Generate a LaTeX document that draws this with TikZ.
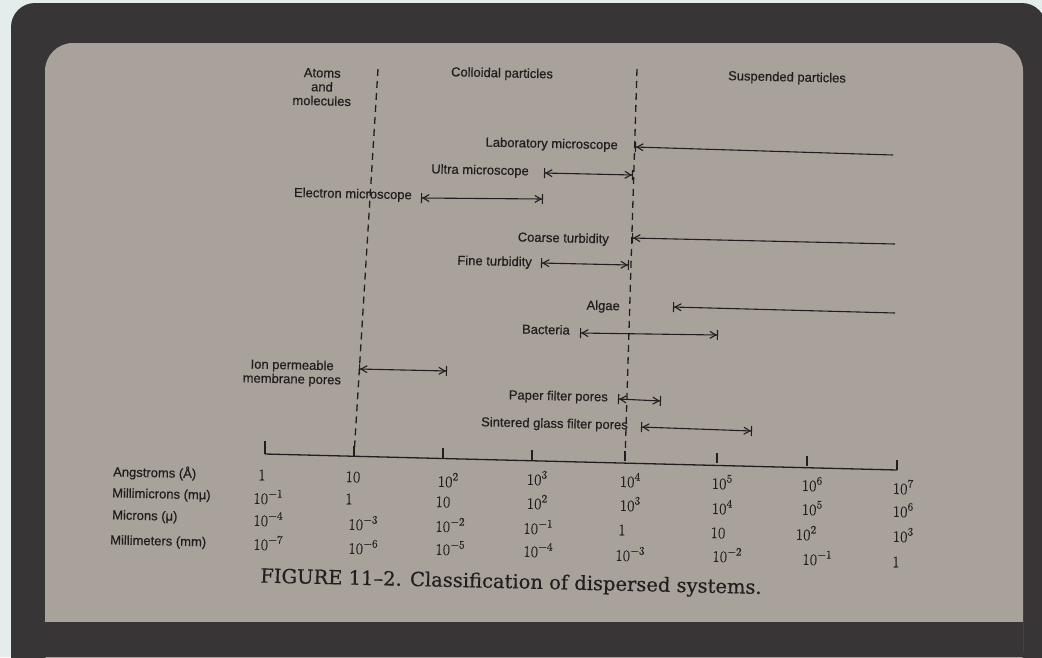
\documentclass[tikz,border=0pt]{standalone}
\usepackage{fontspec}
\newfontfamily\lblfont[FakeBold=0.5]{Liberation Sans}
\newfontfamily\numfont[FakeBold=0.4]{Latin Modern Roman}
\newfontfamily\capfont[FakeBold=0.4]{DejaVu Serif}
\usetikzlibrary{arrows.meta}
\definecolor{bgc}{RGB}{228,236,236}
\definecolor{framec}{RGB}{56,53,54}
\definecolor{paperc}{RGB}{168,162,154}
\definecolor{inkc}{RGB}{34,30,31}
\newcommand\tp[1]{10\raisebox{0.42em}{\fontsize{11.5}{12}\selectfont#1}}
\tikzset{
  lbl/.style={font=\lblfont\fontsize{13}{14}\selectfont, text=inkc, inner sep=0pt, rotate=-1.2},
  num/.style={font=\numfont\fontsize{16}{17}\selectfont, text=inkc, inner sep=0pt, rotate=-1.2},
  border/.style={draw=inkc, line width=1.3pt, dash pattern=on 7pt off 5pt},
  rangeboth/.style={draw=inkc, line width=1.1pt,
    {Bar[width=10pt]Straight Barb[length=6pt,width=7pt]}-{Straight Barb[length=6pt,width=7pt]Bar[width=10pt]}},
  rangeleft/.style={draw=inkc, line width=1.1pt,
    {Bar[width=10pt]Straight Barb[length=6pt,width=7pt]}-},
  axisline/.style={draw=inkc, line width=1.3pt},
}
\begin{document}
\begin{tikzpicture}[x=1pt,y=-1pt]
    \useasboundingbox (0,0) rectangle (1042,657);
    \clip (0,0) rectangle (1042,657);
    \fill[bgc] (0,0) rectangle (1042,657);
    \fill[framec, rounded corners=24pt] (11,3) rectangle (1046,700);
    \fill[paperc, rounded corners=28pt] (45,43) rectangle (1023,680);
    \fill[framec] (45,622) rectangle (1023,657);

    \node[lbl, align=center] (atoms) at (322,87) {Atoms\\and\\molecules};
    \node[lbl] (colloid) at (502,74) {Colloidal particles};
    \node[lbl] (susp) at (787,78) {Suspended particles};

    \coordinate (ax0) at (265,454);
    \coordinate (ax1) at (354,456);
    \coordinate (ax4) at (625,461);
    \coordinate (ax7) at (897,470);
    \coordinate (top1) at (378,69);
    \coordinate (top4) at (637,69);
    \draw[border] (top1) -- (ax1);
    \draw[border] (top4) -- (ax4);

    \coordinate (lab-a) at (635,147);
    \coordinate (lab-b) at (893,155);
    \draw[rangeleft] (lab-a) -- (lab-b);
    \node[lbl, anchor=east] (lab) at (618,146) {Laboratory microscope};
    \coordinate (ultra-a) at (544,173);
    \coordinate (ultra-b) at (633,175);
    \draw[rangeboth] (ultra-a) -- (ultra-b);
    \node[lbl, anchor=east] (ultra) at (529,172) {Ultra microscope};
    \coordinate (elec-a) at (421,198);
    \coordinate (elec-b) at (543,199);
    \draw[rangeboth] (elec-a) -- (elec-b);
    \node[lbl, anchor=east] (elec) at (412,196) {Electron microscope};
    \coordinate (coarse-a) at (632,238);
    \coordinate (coarse-b) at (895,244);
    \draw[rangeleft] (coarse-a) -- (coarse-b);
    \node[lbl, anchor=east] (coarse) at (609,240) {Coarse turbidity};
    \coordinate (fine-a) at (541,263);
    \coordinate (fine-b) at (629,265);
    \draw[rangeboth] (fine-a) -- (fine-b);
    \node[lbl, anchor=east] (fine) at (532,263) {Fine turbidity};
    \coordinate (algae-a) at (673,307);
    \coordinate (algae-b) at (895,313);
    \draw[rangeleft] (algae-a) -- (algae-b);
    \node[lbl, anchor=east] (algae) at (620,307) {Algae};
    \coordinate (bact-a) at (580,333);
    \coordinate (bact-b) at (718,335);
    \draw[rangeboth] (bact-a) -- (bact-b);
    \node[lbl, anchor=east] (bact) at (570,330) {Bacteria};
    \coordinate (ion-a) at (359,369);
    \coordinate (ion-b) at (447,371);
    \draw[rangeboth] (ion-a) -- (ion-b);
    \node[lbl, align=center] (ion) at (292,373) {Ion permeable\\membrane pores};
    \coordinate (paper-a) at (618,399);
    \coordinate (paper-b) at (661,401);
    \draw[rangeboth] (paper-a) -- (paper-b);
    \node[lbl, anchor=east] (paper) at (608,398) {Paper filter pores};
    \coordinate (sint-a) at (641,427);
    \coordinate (sint-b) at (752,431);
    \draw[rangeboth] (sint-a) -- (sint-b);
    \node[lbl, anchor=east] (sint) at (628,426) {Sintered glass filter pores};

    \draw[axisline] (ax0) -- (ax7);
    \draw[axisline] (ax0) -- ++(0,-13);
    \draw[axisline] (ax7) -- ++(0,-10);
    \foreach \x/\y in {354/456, 443/458, 532/460, 625/461, 717/463, 807/466}
      \draw[axisline] (\x,\y) -- ++(0,-10);

    \node[lbl, anchor=west] (ang) at (113,472) {Angstroms (Å)};
    \node[lbl, anchor=west] (mmu) at (112,494) {Millimicrons (mμ)};
    \node[lbl, anchor=west] (mic) at (112,516) {Microns (μ)};
    \node[lbl, anchor=west] (mm) at (110,541) {Millimeters (mm)};

    \foreach \x/\y/\t [count=\i] in {
      262/475/1, 268/497/\tp{−1}, 268/519/\tp{−4}, 268/543/\tp{−7},
      353/477/10, 349/499/1, 363/523/\tp{−3}, 363/547/\tp{−6},
      448/480/\tp{2}, 443/502/10, 450/525/\tp{−2}, 450/548/\tp{−5},
      537/478/\tp{3}, 537/502/\tp{2}, 538/527/\tp{−1}, 538/550/\tp{−4},
      630/480/\tp{4}, 630/504/\tp{3}, 622/530/1, 630/554/\tp{−3},
      722/482/\tp{5}, 722/507/\tp{4}, 718/533/10, 727/555/\tp{−2},
      812/484/\tp{6}, 812/508/\tp{5}, 806/533/\tp{2}, 817/558/\tp{−1},
      903/487/\tp{7}, 903/510/\tp{6}, 903/535/\tp{3}, 896/562/1}
      \node[num] (v\i) at (\x,\y) {\t};

    \node[text=inkc, inner sep=0pt, rotate=-1.3, font=\capfont\fontsize{19.5}{21}\selectfont]
      (caption) at (511,583) {FIGURE 11–2. Classification of dispersed systems.};
  \end{tikzpicture}
\end{document}
